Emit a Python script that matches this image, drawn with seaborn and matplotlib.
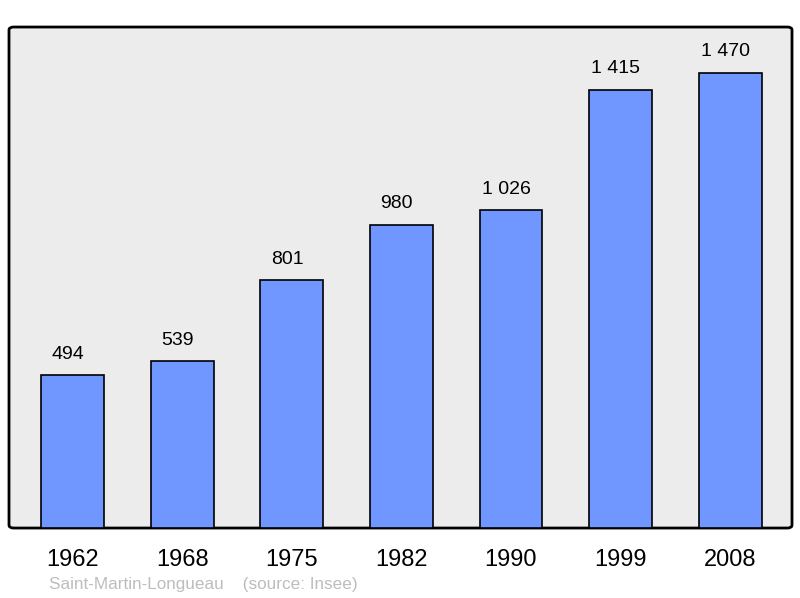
import matplotlib.pyplot as plt
import seaborn as sns
import pandas as pd
from matplotlib.patches import FancyBboxPatch

# données population
annees = ["1962", "1968", "1975", "1982", "1990", "1999", "2008"]
population = [494, 539, 801, 980, 1026, 1415, 1470]
etiquettes = ["494", "539", "801", "980", "1 026", "1 415", "1 470"]

df = pd.DataFrame({'annee': annees, 'pop': population})

sns.set_style("white")
plt.rcParams['font.family'] = ['Liberation Sans', 'DejaVu Sans']

fig = plt.figure(figsize=(8, 5.98), dpi=100)
ax = fig.add_axes([0.01125, 0.117, 0.97875, 0.8378])
ax.set_facecolor('none')

# fond gris à coins arrondis
fond = FancyBboxPatch((0, 0), 1, 1, boxstyle="round,pad=0,rounding_size=0.006",
                      transform=ax.transAxes, facecolor='#ececec', edgecolor='black',
                      linewidth=2, clip_on=False, zorder=0)
ax.add_patch(fond)

sns.barplot(x='annee', y='pop', data=df, color='#7096ff', saturation=1,
            width=0.575, edgecolor='black', linewidth=1.2, ax=ax, zorder=2)

for i, (v, t) in enumerate(zip(population, etiquettes)):
    ax.annotate(t, (i, v), xytext=(-3.5, 9), textcoords='offset points',
                ha='center', va='bottom', fontsize=14, color='black')

ax.set_xlim(-0.584, 6.566)
ax.set_ylim(0, 1618)
for s in ax.spines.values():
    s.set_visible(False)
ax.set_yticks([])
ax.tick_params(axis='x', length=0, pad=15, labelsize=17, labelcolor='black')
ax.set_xlabel('')
ax.set_ylabel('')

fig.text(49 / 800, 1 - 585 / 598, "Saint-Martin-Longueau    (source: Insee)",
         fontsize=12.3, color='#bdbdbd', ha='left', va='center')

fig.savefig("out.png", dpi=100)
